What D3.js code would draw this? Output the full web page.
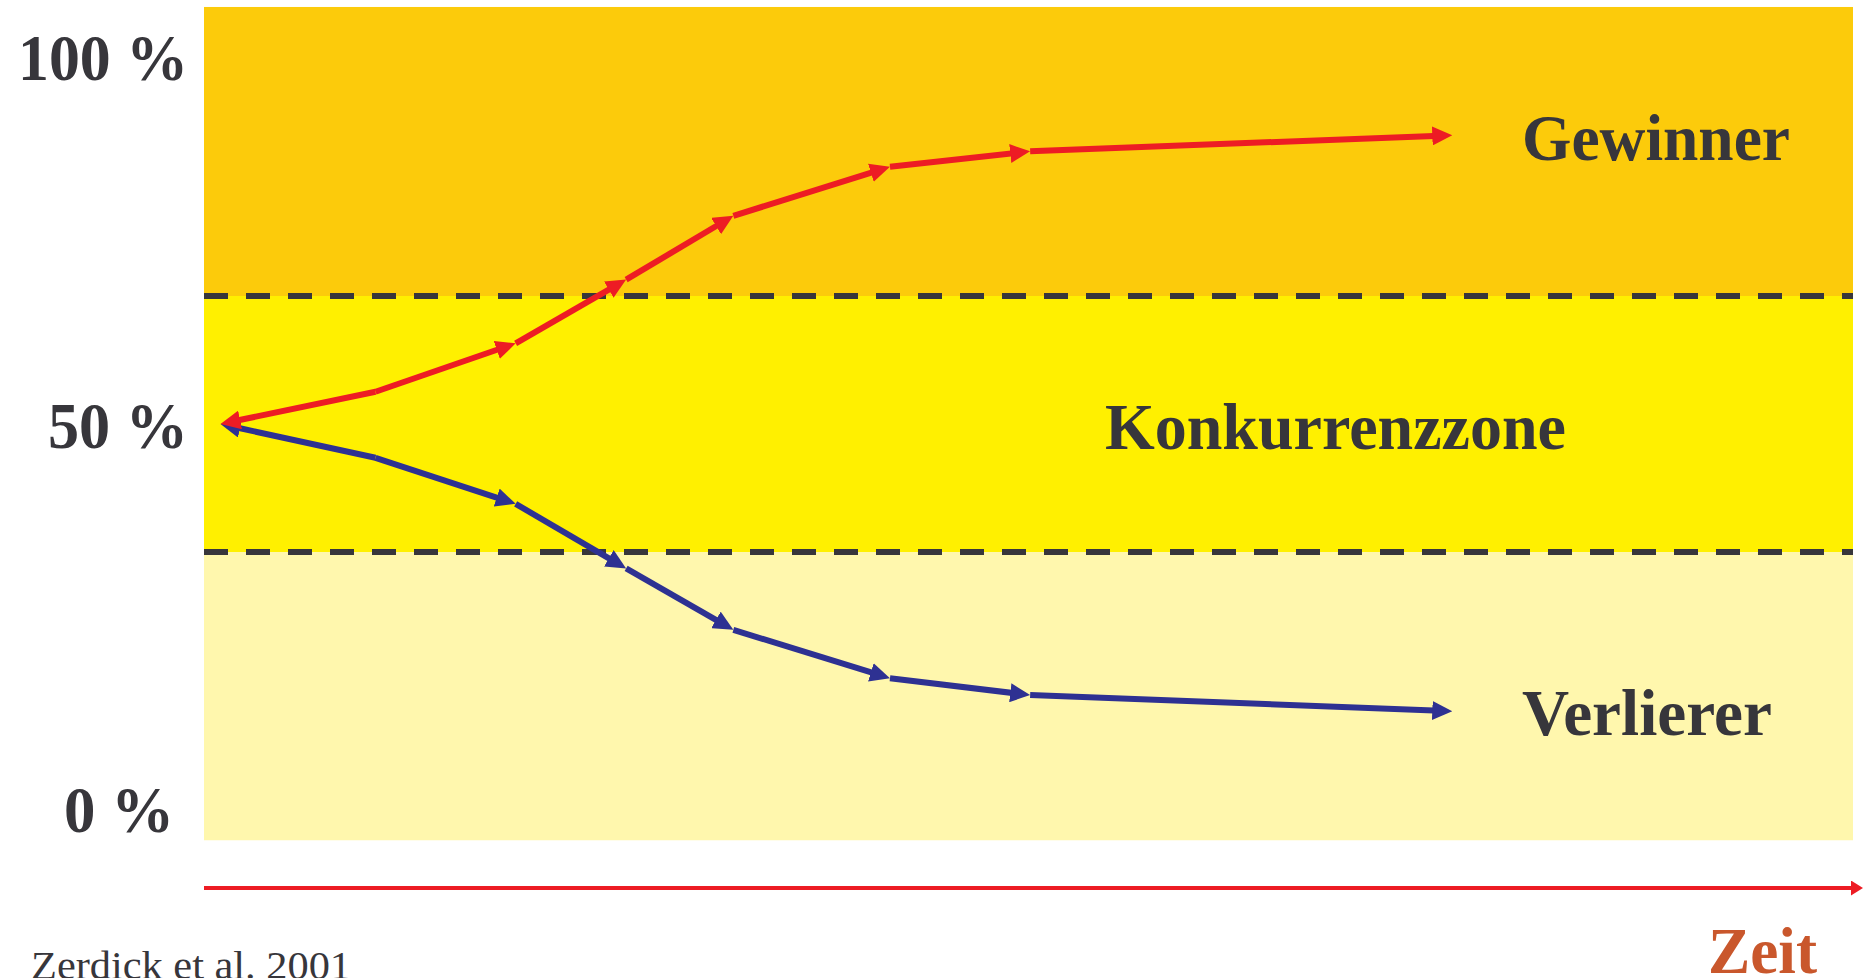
<!DOCTYPE html>
<html>
<head>
<meta charset="utf-8">
<script src="https://cdn.jsdelivr.net/npm/d3@7"></script>
<style>
  body { margin: 0; background: #fff; }
  svg { display: block; }
  text { font-family: "Liberation Serif", "Times New Roman", serif; }
</style>
</head>
<body>
<script>
// time steps (arbitrary units, 0..100 across the plot)
var zeit = [1, 10.4, 18.9, 25.6, 32.1, 41.6, 50.1, 75.7];
// market share in percent
var gewinner = [50, 54.2, 60.5, 68.8, 77.1, 83.5, 85.5, 87.6];
var verlierer = [50, 45.6, 39.6, 31.2, 23.2, 16.9, 14.7, 12.6];

// y axis labels
var tickValues = [100, 50, 0];
var tickLabels = ["100 %", "50 %", "0 %"];

// zones: lower, upper bound in percent
var zoneNames = ["Verlierer", "Konkurrenzzone", "Gewinner"];
var zoneLow = [-4.2, 100 / 3, 200 / 3];
var zoneHigh = [100 / 3, 200 / 3, 104.3];

var W = 1865, H = 978;
var textCol = "#37363b";
var red = "#ed1c24", blue = "#2e3192";

var svg = d3.select("body").append("svg")
    .attr("width", W)
    .attr("height", H);

var x = d3.scaleLinear().domain([0, 100]).range([204, 1853]);
var y = d3.scaleLinear().domain([0, 100]).range([808, 40]);

// arrow heads
var defs = svg.append("defs");
function marker(id, color, len, wid, back) {
    defs.append("marker")
        .attr("id", id)
        .attr("markerUnits", "userSpaceOnUse")
        .attr("viewBox", "0 0 " + len + " " + wid)
        .attr("refX", len - back)
        .attr("refY", wid / 2)
        .attr("markerWidth", len)
        .attr("markerHeight", wid)
        .attr("orient", "auto")
        .append("path")
        .attr("d", "M0,0L" + len + "," + (wid / 2) + "L0," + wid + "Z")
        .attr("fill", color);
}
marker("arrRed", red, 20, 19, 12);
marker("arrBlue", blue, 20, 19, 12);
marker("arrAxis", red, 12, 15, 6);

// zone backgrounds
var zoneColors = ["#fff7ad", "#fff000", "#fccb0b"];
svg.selectAll("rect.zone")
    .data(zoneNames).enter()
    .append("rect")
    .attr("class", "zone")
    .attr("x", x(0))
    .attr("width", x(100) - x(0))
    .attr("y", function(d, i) { return y(zoneHigh[i]); })
    .attr("height", function(d, i) { return y(zoneLow[i]) - y(zoneHigh[i]); })
    .attr("fill", function(d, i) { return zoneColors[i]; });

// dashed borders between zones
svg.selectAll("line.border")
    .data([zoneLow[1], zoneLow[2]]).enter()
    .append("line")
    .attr("x1", x(0))
    .attr("x2", x(100))
    .attr("y1", function(d) { return y(d); })
    .attr("y2", function(d) { return y(d); })
    .attr("stroke", "#38363b")
    .attr("stroke-width", 6)
    .attr("stroke-dasharray", "24 18");

// zone names
var zoneText = {
    "Gewinner": { x: 1522, y: 160, len: 268 },
    "Konkurrenzzone": { x: 1105, y: 449, len: 461 },
    "Verlierer": { x: 1522, y: 735, len: 250 }
};
svg.selectAll("text.zone")
    .data(zoneNames).enter()
    .append("text")
    .attr("x", function(d) { return zoneText[d].x; })
    .attr("y", function(d) { return zoneText[d].y; })
    .attr("textLength", function(d) { return zoneText[d].len; })
    .attr("lengthAdjust", "spacingAndGlyphs")
    .attr("font-size", 66)
    .attr("font-weight", "bold")
    .attr("fill", textCol)
    .text(function(d) { return d; });

// each series: first segment goes back to the start, the others forward
function segments(vals) {
    var pts = zeit.map(function(t, i) { return [x(t), y(vals[i])]; });
    var segs = [[pts[1], pts[0]]];
    for (var i = 1; i < pts.length - 1; i++) segs.push([pts[i], pts[i + 1]]);
    // pull the line end back so the head covers the tip
    return segs.map(function(s) {
        var dx = s[1][0] - s[0][0], dy = s[1][1] - s[0][1];
        var l = Math.sqrt(dx * dx + dy * dy);
        return [s[0], [s[1][0] - dx / l * 12, s[1][1] - dy / l * 12]];
    });
}
var line = d3.line();
function drawSeries(vals, color, mk) {
    svg.append("g").selectAll("path")
        .data(segments(vals)).enter()
        .append("path")
        .attr("d", line)
        .attr("fill", "none")
        .attr("stroke", color)
        .attr("stroke-width", 6)
        .attr("marker-end", "url(#" + mk + ")");
}
drawSeries(verlierer, blue, "arrBlue");
drawSeries(gewinner, red, "arrRed");

// y labels
var labelShift = { 100: [0, 40], 50: [0, 24], 0: [-14, 24] };
svg.selectAll("text.tick")
    .data(tickValues).enter()
    .append("text")
    .attr("x", function(d) { return 188 + labelShift[d][0]; })
    .attr("y", function(d) { return y(d) + labelShift[d][1]; })
    .attr("text-anchor", "end")
    .attr("font-size", 66)
    .attr("font-weight", "bold")
    .attr("fill", textCol)
    .attr("textLength", function(d, i) { return [170, 140, 110][i]; })
    .attr("lengthAdjust", "spacingAndGlyphs")
    .text(function(d, i) { return tickLabels[i]; });

// time arrow
svg.append("line")
    .attr("x1", x(0))
    .attr("x2", 1857)
    .attr("y1", 888)
    .attr("y2", 888)
    .attr("stroke", red)
    .attr("stroke-width", 4)
    .attr("marker-end", "url(#arrAxis)");

svg.append("text")
    .attr("x", 1708)
    .attr("y", 973)
    .attr("font-size", 66)
    .attr("font-weight", "bold")
    .attr("fill", "#c9572c")
    .attr("textLength", 109)
    .attr("lengthAdjust", "spacingAndGlyphs")
    .text("Zeit");

// source
svg.append("text")
    .attr("x", 31)
    .attr("y", 979)
    .attr("font-size", 40)
    .attr("fill", textCol)
    .attr("textLength", 320)
    .attr("lengthAdjust", "spacingAndGlyphs")
    .text("Zerdick et al. 2001");
</script>
</body>
</html>
